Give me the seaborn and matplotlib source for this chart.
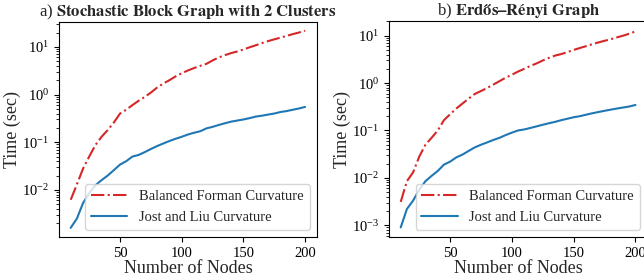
import numpy as np
import matplotlib
matplotlib.use("Agg")
import matplotlib.pyplot as plt
import seaborn as sns

# number of nodes in each random graph
nodes = list(range(10, 205, 5))

# a) stochastic block graph, 2 clusters
bfc_sbm = [0.0062, 0.013, 0.028, 0.05, 0.087, 0.13, 0.18, 0.26, 0.40, 0.48,
           0.60, 0.74, 0.89, 1.1, 1.4, 1.7, 2.0, 2.4, 2.8, 3.2,
           3.6, 4.0, 4.4, 5.2, 6.0, 6.7, 7.4, 8.0, 8.8, 9.8,
           10.8, 12.0, 13.2, 14.4, 15.6, 17.0, 18.5, 20.0, 21.8]
jl_sbm = [0.0016, 0.0025, 0.0053, 0.0085, 0.0125, 0.016, 0.020, 0.026, 0.034, 0.040,
          0.050, 0.054, 0.062, 0.072, 0.083, 0.094, 0.106, 0.118, 0.13, 0.145,
          0.158, 0.17, 0.195, 0.21, 0.23, 0.25, 0.27, 0.285, 0.30, 0.32,
          0.345, 0.36, 0.38, 0.40, 0.43, 0.45, 0.48, 0.51, 0.55]

# b) Erdos-Renyi graph
bfc_er = [0.0031, 0.0085, 0.013, 0.028, 0.05, 0.07, 0.10, 0.165, 0.22, 0.29,
          0.37, 0.47, 0.59, 0.68, 0.79, 0.93, 1.1, 1.3, 1.5, 1.75,
          2.0, 2.3, 2.6, 3.0, 3.4, 3.8, 4.1, 4.5, 5.0, 5.5,
          6.0, 6.6, 7.2, 7.8, 8.4, 9.2, 10.0, 11.0, 12.3]
jl_er = [0.0009, 0.0022, 0.0033, 0.0056, 0.0085, 0.011, 0.014, 0.019, 0.022, 0.027,
         0.031, 0.037, 0.044, 0.05, 0.056, 0.063, 0.07, 0.08, 0.09, 0.10,
         0.105, 0.113, 0.122, 0.132, 0.142, 0.152, 0.165, 0.177, 0.19, 0.20,
         0.215, 0.23, 0.245, 0.26, 0.275, 0.29, 0.305, 0.32, 0.345]

titles = [r"a) $\mathbf{Stochastic\ Block\ Graph\ with\ 2\ Clusters}$",
          r"b) $\mathbf{Erdős–Rényi\ Graph}$"]

sns.set_style("ticks")
plt.rcParams['font.family'] = ['Liberation Serif', 'DejaVu Serif']
plt.rcParams['mathtext.fontset'] = 'stix'
plt.rcParams['axes.edgecolor'] = 'black'
plt.rcParams['xtick.color'] = 'black'
plt.rcParams['ytick.color'] = 'black'

fig = plt.figure(figsize=(6.44, 2.76), dpi=100)
ax1 = fig.add_axes([0.0916, 0.141, 0.4004, 0.779])
ax2 = fig.add_axes([0.604, 0.141, 0.401, 0.783])

panels = [(ax1, bfc_sbm, jl_sbm, titles[0], (10**-2.99, 10**1.52)),
          (ax2, bfc_er, jl_er, titles[1], (10**-3.25, 10**1.31))]

for ax, bfc, jl, title, ylim in panels:
    sns.lineplot(x=nodes, y=bfc, ax=ax, color='#d62728', linestyle='-.',
                 label='Balanced Forman Curvature')
    sns.lineplot(x=nodes, y=jl, ax=ax, color='#1f77b4',
                 label='Jost and Liu Curvature')
    ax.set_yscale('log')
    ax.set_ylim(*ylim)
    ax.set_xticks([50, 100, 150, 200])
    ax.tick_params(labelsize=10.5)
    ax.set_xlabel('Number of Nodes', fontsize=13, labelpad=0)
    ax.set_ylabel('Time (sec)', fontsize=13, labelpad=1)
    ax.set_title(title, fontsize=12, pad=3)
    ax.legend(loc='lower right', fontsize=10.5, handlelength=2.5, framealpha=0.8)
    for s in ax.spines.values():
        s.set_linewidth(0.8)

fig.savefig('out.png', dpi=100)
